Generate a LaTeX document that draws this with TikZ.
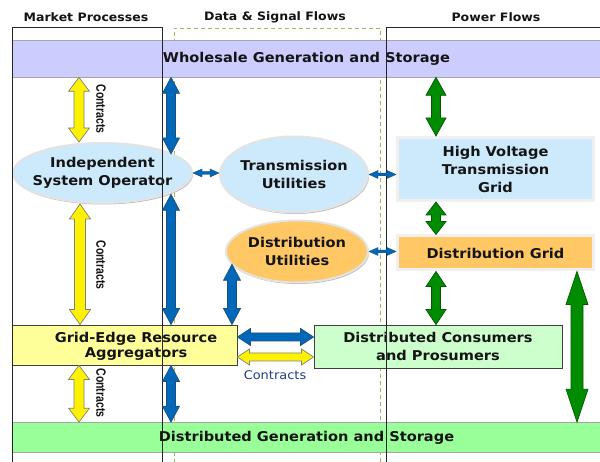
\documentclass[tikz,border=0pt]{standalone}
\usepackage{fontspec}
\setmainfont{DejaVu Sans}[FakeStretch=1.08]
\newfontfamily\cfont{Liberation Sans}[FakeStretch=0.78]
\usetikzlibrary{shapes.geometric,calc,shadows}
\definecolor{txt}{HTML}{141414}
\definecolor{lav}{HTML}{CCCCFF}
\definecolor{dgen}{HTML}{99FF99}
\definecolor{lblue}{HTML}{CCEAFB}
\definecolor{orng}{HTML}{FFC864}
\definecolor{lyel}{HTML}{FFFF99}
\definecolor{lgrn}{HTML}{CCFFCC}
\definecolor{arrblue}{HTML}{0068B8}
\definecolor{arrblueD}{HTML}{1F4E79}
\definecolor{arrgreen}{HTML}{008C00}
\definecolor{arrgreenD}{HTML}{005A00}
\definecolor{dashg}{HTML}{9BBB59}
\definecolor{tanshadow}{HTML}{D2B49A}
\definecolor{ctrblue}{HTML}{1F3F80}
\newcommand\fatarr[6]{%
  \path[#1] (#5) -- ($(#5)!#4!(#6)!#3!90:(#6)$) -- ($(#5)!#4!(#6)!#2!90:(#6)$)
   -- ($(#6)!#4!(#5)!#2!-90:(#5)$) -- ($(#6)!#4!(#5)!#3!-90:(#5)$) -- (#6)
   -- ($(#6)!#4!(#5)!#3!90:(#5)$) -- ($(#6)!#4!(#5)!#2!90:(#5)$)
   -- ($(#5)!#4!(#6)!#2!-90:(#6)$) -- ($(#5)!#4!(#6)!#3!-90:(#6)$) -- cycle;}
\tikzset{
  mainfont/.style={font=\bfseries\fontsize{13.5}{18}\selectfont, text=txt},
  hdr/.style={font=\bfseries\fontsize{11.6}{14}\selectfont, text=txt, inner sep=0pt},
  bar/.style={mainfont, draw=gray!70, line width=0.7pt, inner sep=0pt},
  oval/.style={ellipse, mainfont, draw=gray!22, line width=2pt, inner xsep=-16pt, inner ysep=-10pt, align=center,
    drop shadow={shadow xshift=1pt, shadow yshift=-1.5pt, fill=gray!55, opacity=1}},
  gbox/.style={rectangle, mainfont, draw=gray!12, line width=3pt, inner sep=0pt, align=center,
    drop shadow={shadow xshift=1.5pt, shadow yshift=-1.5pt, fill=tanshadow, opacity=1}},
  pbox/.style={rectangle, draw=black!75, line width=0.9pt, inner sep=0pt},
  colline/.style={draw=black!85, line width=0.8pt},
  dashcol/.style={draw=dashg, line width=0.8pt, dash pattern=on 4pt off 3pt},
  ctr/.style={font=\cfont\bfseries\fontsize{13.5}{14}\selectfont, text=txt, inner sep=0pt},
  blu/.style={fill=arrblue, draw=arrblueD, line width=0.7pt},
  yel/.style={fill=yellow, draw=gray, line width=0.7pt},
  grn/.style={fill=arrgreen, draw=arrgreenD, line width=0.7pt},
}
\begin{document}
\begin{tikzpicture}[x=1pt,y=-1pt]
\useasboundingbox (0,0) rectangle (600,462);
\fill[white] (0,0) rectangle (600,462);
% headers
\node[hdr] (h1) at (86,17) {Market Processes};
\node[hdr] (h2) at (275,17) {Data \& Signal Flows};
\node[hdr] (h3) at (496,17) {Power Flows};
% dashed column
\draw[dashcol] (174,470) -- (174,28) -- (380,28) -- (380,470);
% bars
\node[bar, fill=lav, minimum width=589pt, minimum height=37pt] (whole) at (306.5,58.5) {Wholesale Generation and Storage};
\node[bar, fill=dgen, minimum width=589pt, minimum height=30pt] (distgen) at (306.5,437.5) {Distributed Generation and Storage};
% ovals
\node[oval, fill=lblue, minimum width=179pt, minimum height=60pt] (iso) at (102.5,173) {Independent\\System Operator};
\node[oval, fill=lblue, minimum width=148pt, minimum height=76pt] (tu) at (294,174.5) {Transmission\\Utilities};
\node[oval, fill=orng, minimum width=142pt, minimum height=62pt] (du) at (297,251.5) {Distribution\\Utilities};
% grid boxes
\node[gbox, fill=lblue, minimum width=196pt, minimum height=63pt] (hv) at (495.5,169) {High Voltage\\Transmission\\Grid};
\node[gbox, fill=orng, minimum width=196pt, minimum height=34pt] (dgrid) at (495.5,253) {Distribution Grid};
% participant boxes
\node[pbox, fill=lyel, minimum width=225pt, minimum height=40pt] (agg) at (124.5,345) {};
\node[align=center, font=\bfseries\fontsize{13.5}{15}\selectfont, text=txt, inner sep=0pt] (aggt) at (136,346.5) {Grid-Edge Resource\\Aggregators};
\node[pbox, fill=lgrn, minimum width=248pt, minimum height=43pt, mainfont, align=center] (cons) at (438,346.5) {Distributed Consumers\\and Prosumers};
% column lines
\draw[colline] (12,470) -- (12,27) -- (162,27) -- (162,470);
\draw[colline] (386,470) -- (386,27) -- (602,27);
% arrow end points
\coordinate (y1a) at (79,0 |- whole.south);
\coordinate (y1b) at (79,0 |- iso.north);
\coordinate (y2a) at (80,0 |- iso.south);
\coordinate (y2b) at (80,0 |- agg.north);
\coordinate (y3a) at (79,0 |- agg.south);
\coordinate (y3b) at (79,0 |- distgen.north);
\coordinate (b1a) at (171,0 |- whole.south);
\coordinate (b1b) at (171,0 |- iso.15);
\coordinate (b2a) at (171,0 |- iso.-18);
\coordinate (b2b) at (171,0 |- agg.north);
\coordinate (b3a) at (171,0 |- agg.south);
\coordinate (b3b) at (171,0 |- distgen.north);
\coordinate (b4a) at (232,0 |- du.191);
\coordinate (b4b) at (232,0 |- agg.north);
\coordinate (bh1a) at (agg.east |- 0,337);
\coordinate (bh1b) at (cons.west |- 0,337);
\coordinate (yh1a) at (agg.east |- 0,357);
\coordinate (yh1b) at (cons.west |- 0,357);
\coordinate (s1a) at (iso.east);
\coordinate (s1b) at (tu.west |- iso.east);
\coordinate (s2a) at (tu.east);
\coordinate (s2b) at (hv.west |- tu.east);
\coordinate (s3a) at (du.east);
\coordinate (s3b) at (dgrid.west |- du.east);
\coordinate (g1a) at (436,0 |- whole.south);
\coordinate (g1b) at (436,0 |- hv.north);
\coordinate (g2a) at (436,0 |- hv.south);
\coordinate (g2b) at (436,0 |- dgrid.north);
\coordinate (g3a) at (436,0 |- dgrid.south);
\coordinate (g3b) at (436,0 |- cons.north);
\coordinate (g4a) at (577,0 |- dgrid.south);
\coordinate (g4b) at (577,0 |- distgen.north);
% yellow contracts arrows
\fatarr{yel}{5pt}{10.5pt}{14pt}{y1a}{y1b}
\fatarr{yel}{5.5pt}{10.5pt}{15pt}{y2a}{y2b}
\fatarr{yel}{5pt}{10.5pt}{14pt}{y3a}{y3b}
\fatarr{yel}{4pt}{8pt}{12pt}{yh1a}{yh1b}
% blue data arrows
\fatarr{blu}{4.5pt}{8.5pt}{16pt}{b1a}{b1b}
\fatarr{blu}{4.5pt}{8.5pt}{16pt}{b2a}{b2b}
\fatarr{blu}{4.5pt}{8.5pt}{16pt}{b3a}{b3b}
\fatarr{blu}{4.5pt}{8.5pt}{16pt}{b4a}{b4b}
\fatarr{blu}{4pt}{8.5pt}{13pt}{bh1a}{bh1b}
\fatarr{blu, line width=0.4pt}{1.3pt}{4pt}{9pt}{s1a}{s1b}
\fatarr{blu, line width=0.4pt}{1.3pt}{4pt}{9pt}{s2a}{s2b}
\fatarr{blu, line width=0.4pt}{1.3pt}{4pt}{9pt}{s3a}{s3b}
% green power arrows
\fatarr{grn}{4.5pt}{10pt}{18pt}{g1a}{g1b}
\fatarr{grn}{4.5pt}{10pt}{13pt}{g2a}{g2b}
\fatarr{grn}{4.5pt}{10pt}{15pt}{g3a}{g3b}
\fatarr{grn}{6pt}{11pt}{33pt}{g4a}{g4b}
% contracts labels
\node[ctr, rotate=-90] (c1) at (101,109) {Contracts};
\node[ctr, rotate=-90] (c2) at (101,265) {Contracts};
\node[ctr, rotate=-90] (c3) at (101,393) {Contracts};
\node[font=\fontsize{12}{14}\selectfont, text=ctrblue, inner sep=0pt] (c4) at (275,375) {Contracts};
\end{tikzpicture}
\end{document}
